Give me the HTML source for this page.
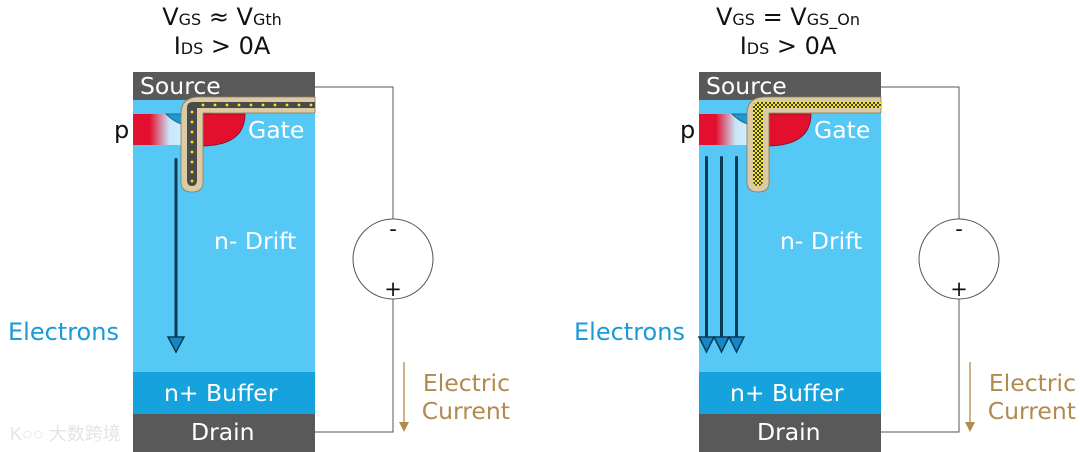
<!DOCTYPE html>
<html><head><meta charset="utf-8"><style>
html,body{margin:0;padding:0;background:#fff;}
svg{display:block;font-family:"DejaVu Sans","Liberation Sans",sans-serif;}
</style></head><body>
<svg width="1080" height="452" viewBox="0 0 1080 452" xmlns="http://www.w3.org/2000/svg">
<defs>
<linearGradient id="pg" x1="0" x2="1" y1="0" y2="0">
<stop offset="0" stop-color="#e30f2e"/><stop offset="0.3" stop-color="#e30f2e"/><stop offset="0.65" stop-color="#c8e6f8"/><stop offset="1" stop-color="#d8f0fc"/>
</linearGradient>
<pattern id="chk" width="4" height="4" patternUnits="userSpaceOnUse">
<rect width="4" height="4" fill="#f5e90a"/><rect width="2" height="2" fill="#444"/><rect x="2" y="2" width="2" height="2" fill="#444"/>
</pattern>
<g id="dev">
<rect x="0" y="98" width="182" height="274" fill="#55c8f6"/>
<rect x="0" y="372" width="182" height="42" fill="#16a2dd"/>
<rect x="0" y="414" width="182" height="38" fill="#595959"/>
<rect x="0" y="72" width="182" height="28" fill="#595959"/>
<rect x="0" y="114" width="56" height="31" fill="url(#pg)"/>
<path d="M33 114 Q55 136 78 114 Z" fill="#1a9ad6" stroke="#1b4e73" stroke-width="0.8"/>
<path d="M66 114 L112 114 Q112 145 70 146 L66 146 Z" fill="#e30f2e" stroke="#7a1020" stroke-width="0.8"/>
<path d="M48 114 Q48 97 66 97 L182 97 L182 113 L70 113 L70 182 Q70 192 59 192 Q48 192 48 182 Z" fill="#dccaa5" stroke="#8a7a5a" stroke-width="0.8"/>
</g>
</defs>
<g transform="translate(133,0)">
<use href="#dev"/>
<path d="M54 112 L54 180 Q54 186 59 186 Q64 186 64 180 L64 108 L182 108 L182 102 L60 102 Q54 102 54 108 Z" fill="#4a4a4a"/>
<g fill="#f5e90a">
<circle cx="59" cy="112" r="1.4"/><circle cx="59" cy="122" r="1.4"/><circle cx="59" cy="132" r="1.4"/><circle cx="59" cy="142" r="1.4"/><circle cx="59" cy="152" r="1.4"/><circle cx="59" cy="162" r="1.4"/><circle cx="59" cy="172" r="1.4"/><circle cx="59" cy="181" r="1.4"/>
<circle cx="70" cy="105" r="1.4"/><circle cx="82" cy="105" r="1.4"/><circle cx="94" cy="105" r="1.4"/><circle cx="106" cy="105" r="1.4"/><circle cx="118" cy="105" r="1.4"/><circle cx="130" cy="105" r="1.4"/><circle cx="142" cy="105" r="1.4"/><circle cx="154" cy="105" r="1.4"/><circle cx="166" cy="105" r="1.4"/><circle cx="178" cy="105" r="1.4"/>
</g>
<rect x="41.5" y="158" width="3" height="180" rx="1.5" fill="#0d3a55"/>
<path d="M35 337 L51 337 L43 352 Z" fill="#1687c4" stroke="#0d3a55" stroke-width="1.5"/>
</g>
<g transform="translate(699,0)">
<use href="#dev"/>
<path d="M54 112 L54 180 Q54 186 59 186 Q64 186 64 180 L64 108 L182 108 L182 102 L60 102 Q54 102 54 108 Z" fill="url(#chk)"/>
<g fill="#1687c4" stroke="#0d3a55" stroke-width="1.5">
<rect x="6" y="156" width="3" height="184" rx="1.5" fill="#0d3a55" stroke="none"/>
<rect x="21" y="156" width="3" height="184" rx="1.5" fill="#0d3a55" stroke="none"/>
<rect x="36" y="156" width="3" height="184" rx="1.5" fill="#0d3a55" stroke="none"/>
<path d="M0 337 L15 337 L7.5 352 Z"/><path d="M15 337 L30 337 L22.5 352 Z"/><path d="M30 337 L45 337 L37.5 352 Z"/>
</g>
</g>
<g fill="none" stroke="#555" stroke-width="1">
<path d="M315 87 L393 87 L393 219 M393 299 L393 432 L315 432"/>
<circle cx="393" cy="259" r="40"/>
<path d="M879 87 L959 87 L959 219 M959 299 L959 432 L879 432"/>
<circle cx="959" cy="259" r="40"/>
</g>
<g stroke="#b08a4e" stroke-width="1.3"><line x1="404" y1="362" x2="404" y2="424"/><line x1="970" y1="362" x2="970" y2="424"/></g>
<g fill="#b08a4e"><path d="M399 422 L409 422 L404 432 Z"/><path d="M965 422 L975 422 L970 432 Z"/></g>
<g font-size="23.5" fill="#b08a4e" text-anchor="end">
<text x="510" y="391">Electric</text><text x="510" y="419">Current</text>
<text x="1076" y="391">Electric</text><text x="1076" y="419">Current</text>
</g>
<g font-size="21" fill="#111" text-anchor="middle">
<text x="393" y="236">-</text><text x="393" y="296">+</text>
<text x="959" y="236">-</text><text x="959" y="296">+</text>
</g>
<g font-size="23.5" fill="#fff">
<text x="140" y="94">Source</text><text x="706" y="94">Source</text>
<text x="248" y="138">Gate</text><text x="814" y="138">Gate</text>
<text x="214" y="249">n- Drift</text><text x="780" y="249">n- Drift</text>
<text x="164" y="401">n+ Buffer</text><text x="730" y="401">n+ Buffer</text>
<text x="191" y="440">Drain</text><text x="757" y="440">Drain</text>
</g>
<g font-size="24" fill="#111"><text x="114" y="138">p</text><text x="680" y="138">p</text></g>
<g font-size="24" fill="#1a9ad6"><text x="8" y="340">Electrons</text><text x="574" y="340">Electrons</text></g>
<g font-size="24" fill="#111" text-anchor="middle">
<text x="222" y="25">V<tspan font-size="16">GS</tspan> ≈ V<tspan font-size="16">Gth</tspan></text>
<text x="222" y="54">I<tspan font-size="16">DS</tspan> &gt; 0A</text>
<text x="788" y="25">V<tspan font-size="16">GS</tspan> = V<tspan font-size="16">GS_On</tspan></text>
<text x="788" y="54">I<tspan font-size="16">DS</tspan> &gt; 0A</text>
</g>
<text x="10" y="440" font-size="18" fill="#e4e4e4" font-family="'Liberation Sans','Noto Sans CJK SC',sans-serif">K○○ 大数跨境</text>
</svg>
</body></html>
